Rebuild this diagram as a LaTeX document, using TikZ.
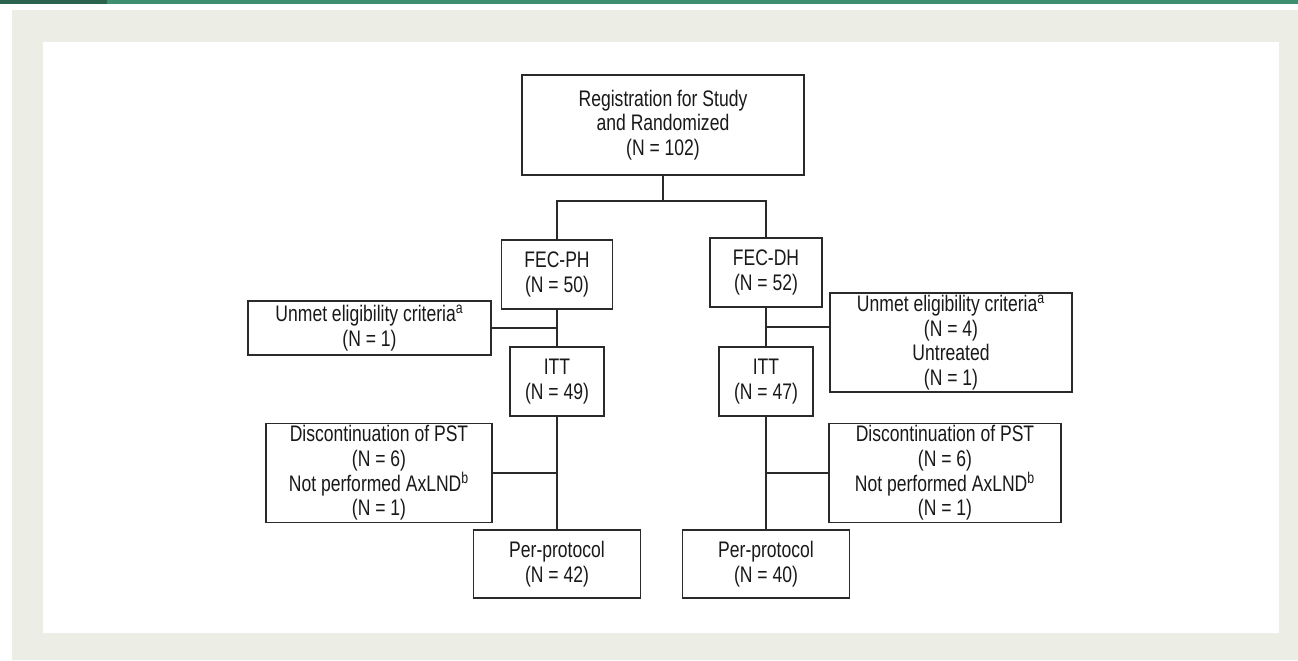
\documentclass[tikz,border=0pt]{standalone}
\usepackage{fontspec}
\setmainfont{Liberation Sans}[FakeStretch=0.78]
\usetikzlibrary{calc}
\definecolor{panel}{HTML}{ECEDE4}
\definecolor{topline}{HTML}{3D8F70}
\definecolor{boxline}{HTML}{2A2A2A}
\tikzset{
  flowbox/.style={draw=boxline,line width=0.9pt,fill=white,inner sep=0pt,align=center,
    text=black!90,font=\fontsize{12.8}{14}\selectfont},
  link/.style={draw=boxline,line width=0.9pt}
}
\begin{document}
\begin{tikzpicture}[x=0.02cm,y=-0.02cm]
% frame
\fill[white] (0,0) rectangle (1298,660);
\fill[panel] (12,10) rectangle (1298,660);
\fill[white] (43,42) rectangle (1279,633);
\fill[topline] (0,0) rectangle (1298,3.5);
\fill[topline!70!black] (0,0) rectangle (107,3.5);
% boxes
\node[flowbox,minimum width=5.64cm,minimum height=2cm] (reg) at (663,125) {Registration for Study\\and Randomized\\(N = 102)};
\node[flowbox,minimum width=2.22cm,minimum height=1.38cm] (fecph) at (557,274.5) {FEC-PH\\(N = 50)};
\node[flowbox,minimum width=2.24cm,minimum height=1.38cm] (fecdh) at (766,272.5) {FEC-DH\\(N = 52)};
\node[flowbox,minimum width=1.88cm,minimum height=1.38cm] (ittL) at (557,381.5) {ITT\\(N = 49)};
\node[flowbox,minimum width=1.88cm,minimum height=1.38cm] (ittR) at (766,381.5) {ITT\\(N = 47)};
\node[flowbox,minimum width=3.34cm,minimum height=1.36cm] (ppL) at (557,564) {Per-protocol\\(N = 42)};
\node[flowbox,minimum width=3.34cm,minimum height=1.36cm] (ppR) at (766,564) {Per-protocol\\(N = 40)};
\node[flowbox,minimum width=4.86cm,minimum height=1.08cm] (unmetL) at (369.5,328) {Unmet eligibility criteria\textsuperscript{a}\\(N = 1)};
\node[flowbox,minimum width=4.84cm,minimum height=1.98cm] (unmetR) at (951,342.5) {Unmet eligibility criteria\textsuperscript{a}\\(N = 4)\\Untreated\\(N = 1)};
\node[flowbox,minimum width=4.52cm,minimum height=1.98cm] (discL) at (379,473) {Discontinuation of PST\\(N = 6)\\Not performed AxLND\textsuperscript{b}\\(N = 1)};
\node[flowbox,minimum width=4.64cm,minimum height=1.98cm] (discR) at (945,473) {Discontinuation of PST\\(N = 6)\\Not performed AxLND\textsuperscript{b}\\(N = 1)};
% connectors
\coordinate (split) at (663,201);
\draw[link] (reg) -- (split);
\draw[link] (fecph.north) |- (split) -| (fecdh.north);
\draw[link] (fecph) -- (ittL);
\draw[link] (fecdh) -- (ittR);
\draw[link] (ittL) -- (ppL);
\draw[link] (ittR) -- (ppR);
\coordinate (jL1) at ($(fecph.south)!.5!(ittL.north)$);
\coordinate (jR1) at ($(fecdh.south)!.5!(ittR.north)$);
\coordinate (jL2) at ($(ittL.south)!.5!(ppL.north)$);
\coordinate (jR2) at ($(ittR.south)!.5!(ppR.north)$);
\draw[link] (unmetL) -- (jL1);
\draw[link] (jR1) -- (jR1 -| unmetR.west);
\draw[link] (discL) -- (jL2);
\draw[link] (jR2) -- (jR2 -| discR.west);
\end{tikzpicture}
\end{document}
